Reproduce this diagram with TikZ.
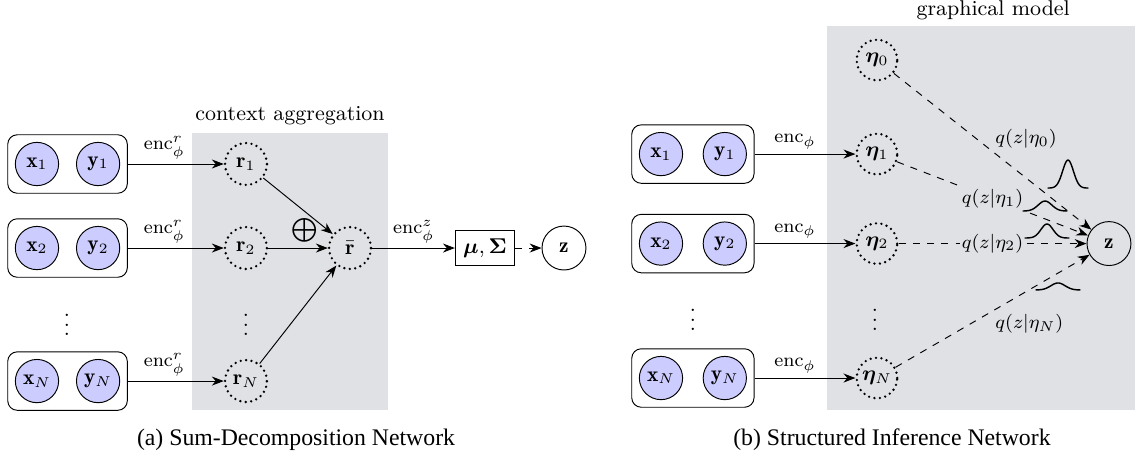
\documentclass[tikz,border=0pt]{standalone}
\usepackage{fontspec}
\usepackage{amsmath}
\usepackage{bm}
\usepackage{tikz}
\usetikzlibrary{arrows.meta, positioning, fit, calc}
\newfontfamily\capfont{Liberation Serif}
\definecolor{obsfill}{RGB}{204,204,255}
\definecolor{aggfill}{RGB}{224,225,228}
\tikzset{
  obs/.style={circle, draw, fill=obsfill, minimum size=0.64cm,
    inner sep=0pt, font=\small},
  pairbox/.style={rectangle, draw, rounded corners=4pt, inner sep=3pt},
  latent/.style={circle, draw, line width=1.1pt, line cap=round,
    dash pattern=on 0pt off 2.3pt, minimum size=0.62cm,
    inner sep=0pt, font=\small},
  outnode/.style={circle, draw, minimum size=0.65cm,
    inner sep=0pt, font=\small},
  statbox/.style={rectangle, draw, font=\small},
  aggbox/.style={rectangle, fill=aggfill, inner sep=0pt},
  blocklab/.style={font=\small, inner sep=1pt},
  enclab/.style={above, font=\footnotesize, inner sep=2pt},
  qlab/.style={font=\footnotesize, inner sep=1pt},
  dotsnode/.style={font=\small, inner sep=0pt},
  arrow/.style={-{Stealth[length=5pt, width=3.8pt]}},
  dasharrow/.style={-{Stealth[length=5pt, width=3.8pt]}, dashed},
  gauss/.style={semithick, samples=50, variable=\t}
}

\begin{document}
\begin{tikzpicture}
  \useasboundingbox (0,0) rectangle (16.79,6.746);

  % ── (a) shaded aggregation block ───────────────────────────────────────────
  \node[aggbox, minimum width=2.9cm, minimum height=4.098cm] (ctx) at (4.29,2.729) {};
  \node[blocklab, above=2pt of ctx.north] (ctxlab) {context aggregation};

  % context pairs
  \node[obs] (xa1) at (0.547,4.320) {$\mathbf{x}_1$};
  \node[obs, right=0.25cm of xa1] (ya1) {$\mathbf{y}_1$};
  \node[pairbox, fit=(xa1)(ya1)] (pa1) {};
  \node[obs] (xa2) at (0.547,3.077) {$\mathbf{x}_2$};
  \node[obs, right=0.25cm of xa2] (ya2) {$\mathbf{y}_2$};
  \node[pairbox, fit=(xa2)(ya2)] (pa2) {};
  \node[obs] (xaN) at (0.547,1.109) {$\mathbf{x}_N$};
  \node[obs, right=0.25cm of xaN] (yaN) {$\mathbf{y}_N$};
  \node[pairbox, fit=(xaN)(yaN)] (paN) {};
  \node[dotsnode] (dotsa) at (0.991,2.041) {$\vdots$};

  % representations
  \node[latent] (r1) at (3.639,4.320) {$\mathbf{r}_1$};
  \node[latent] (r2) at (3.639,3.077) {$\mathbf{r}_2$};
  \node[latent] (rN) at (3.639,1.109) {$\mathbf{r}_N$};
  \node[dotsnode] (dotsr) at (3.639,2.041) {$\vdots$};
  \node[latent] (rbar) at (5.178,3.077) {$\bar{\mathbf{r}}$};
  \node (oplus) at (4.512,3.343) {$\bigoplus$};
  \node[statbox] (musig) at (7.175,3.077) {$\bm{\mu},\bm{\Sigma}$};
  \node[outnode] (za) at (8.343,3.077) {$\mathbf{z}$};

  \draw[arrow] (pa1) -- node[enclab, pos=0.38] {$\mathrm{enc}^r_\phi$} (r1);
  \draw[arrow] (pa2) -- node[enclab, pos=0.38] {$\mathrm{enc}^r_\phi$} (r2);
  \draw[arrow] (paN) -- node[enclab, pos=0.38] {$\mathrm{enc}^r_\phi$} (rN);
  \draw[arrow] (r1) -- (rbar);
  \draw[arrow] (r2) -- (rbar);
  \draw[arrow] (rN) -- (rbar);
  \draw[arrow] (rbar) -- node[enclab] {$\mathrm{enc}^z_\phi$} (musig);
  \draw[dasharrow] (musig) -- (za);

  % ── (b) graphical model block ──────────────────────────────────────────────
  \node[aggbox, minimum width=4.556cm, minimum height=5.681cm] (gm) at (14.512,3.520) {};
  \node[blocklab, above=1pt of gm.north, xshift=0.18cm] (gmlab) {graphical model};

  \node[obs] (xb1) at (9.778,4.467) {$\mathbf{x}_1$};
  \node[obs, right=0.29cm of xb1] (yb1) {$\mathbf{y}_1$};
  \node[pairbox, fit=(xb1)(yb1)] (pb1) {};
  \node[obs] (xb2) at (9.778,3.143) {$\mathbf{x}_2$};
  \node[obs, right=0.29cm of xb2] (yb2) {$\mathbf{y}_2$};
  \node[pairbox, fit=(xb2)(yb2)] (pb2) {};
  \node[obs] (xbN) at (9.778,1.154) {$\mathbf{x}_N$};
  \node[obs, right=0.29cm of xbN] (ybN) {$\mathbf{y}_N$};
  \node[pairbox, fit=(xbN)(ybN)] (pbN) {};
  \node[dotsnode] (dotsb) at (10.251,2.115) {$\vdots$};

  % natural parameters
  \node[latent, minimum size=0.6cm] (eta0) at (12.973,5.858) {$\bm{\eta}_0$};
  \node[latent, minimum size=0.6cm] (eta1) at (12.973,4.467) {$\bm{\eta}_1$};
  \node[latent, minimum size=0.6cm] (eta2) at (12.973,3.143) {$\bm{\eta}_2$};
  \node[latent, minimum size=0.6cm] (etaN) at (12.973,1.154) {$\bm{\eta}_N$};
  \node[dotsnode] (dotse) at (12.943,2.115) {$\vdots$};
  \node[outnode] (zb) at (16.405,3.143) {$\mathbf{z}$};

  \draw[arrow] (pb1) -- node[enclab, pos=0.4] {$\mathrm{enc}_\phi$} (eta1);
  \draw[arrow] (pb2) -- node[enclab, pos=0.4] {$\mathrm{enc}_\phi$} (eta2);
  \draw[arrow] (pbN) -- node[enclab, pos=0.4] {$\mathrm{enc}_\phi$} (etaN);
  \draw[dasharrow] (eta0) -- node[qlab, above right] {$q(z|\eta_0)$} (zb);
  \draw[dasharrow] (eta1) -- node[qlab, fill=aggfill] {$q(z|\eta_1)$} (zb);
  \draw[dasharrow] (eta2) -- node[qlab, fill=aggfill] {$q(z|\eta_2)$} (zb);
  \draw[dasharrow] (etaN) -- node[qlab, below right] {$q(z|\eta_N)$} (zb);

  % ── Gaussian densities ────────────────────────────────────────────────────
  \draw[gauss, domain=-0.30:0.30]
    plot ({15.799+\t}, {3.964+0.414*exp(-\t*\t/0.0128)});
  \draw[gauss, domain=-0.33:0.33]
    plot ({15.459+\t}, {3.624+0.148*exp(-\t*\t/0.02)});
  \draw[gauss, domain=-0.33:0.33]
    plot ({15.488+\t}, {3.225+0.207*exp(-\t*\t/0.016)});
  \draw[gauss, domain=-0.33:0.33]
    plot ({15.651+\t}, {2.456+0.104*exp(-\t*\t/0.022)});

  % ── Captions ──────────────────────────────────────────────────────────────
  \node[font=\capfont] (capa) at (4.379,0.237) {(a) Sum-Decomposition Network};
  \node[font=\capfont] (capb) at (13.195,0.237) {(b) Structured Inference Network};
\end{tikzpicture}
\end{document}
